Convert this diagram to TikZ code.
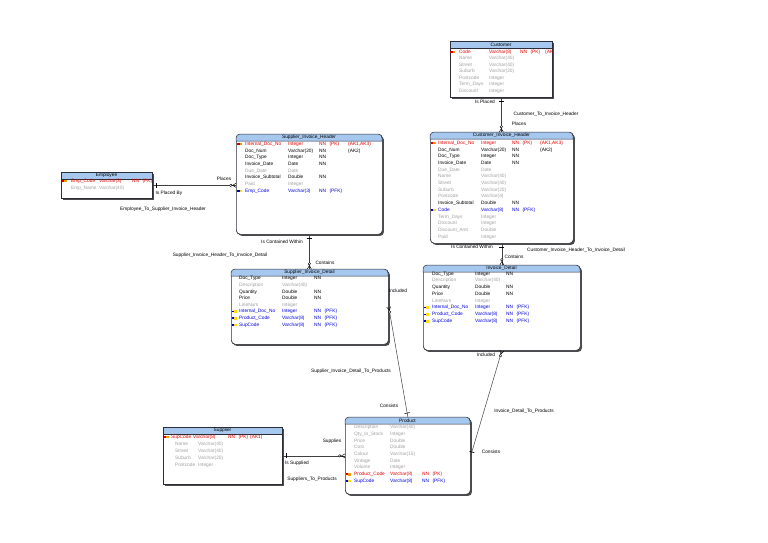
\documentclass[tikz,border=0pt]{standalone}
\usepackage{fontspec}
\setmainfont{Liberation Sans}
\usetikzlibrary{shadows,decorations.markings}
\definecolor{hdr}{RGB}{166,200,238}
\definecolor{pkc}{RGB}{228,0,0}
\definecolor{fkc}{RGB}{0,0,225}
\definecolor{optc}{RGB}{160,160,160}
\definecolor{bord}{RGB}{45,45,55}
\tikzset{
 tbl/.style={draw=bord, line width=0.7pt, fill=white, anchor=north west, inner sep=0pt,
   drop shadow={shadow xshift=1.6pt, shadow yshift=-1.6pt, fill=black!70, opacity=1}},
 hd/.style={fill=hdr, draw=bord, line width=0.5pt},
 ht/.style={font=\fontsize{4.8}{5}\selectfont, inner sep=0pt},
 ct/.style={font=\fontsize{4.8}{5}\selectfont, inner sep=0pt, anchor=west, text height=3.6pt, text depth=1pt},
 mand/.style={ct, text=black},
 opt/.style={ct, text=optc},
 pk/.style={ct, text=pkc},
 fk/.style={ct, text=fkc},
 lbl/.style={font=\fontsize{4.8}{5}\selectfont, inner sep=0pt},
 rel/.style={draw=black!75, line width=0.5pt, postaction={decorate, decoration={markings,
   mark=at position 4pt with {\draw[black, line width=0.6pt] (0pt,-2.6pt) -- (0pt,2.6pt);},
   mark=at position 0.9999 with {\draw[black, line width=0.45pt] (-3.5pt,0pt) -- (0pt,2pt) (-3.5pt,0pt) -- (0pt,-2pt);
      \draw[black, line width=0.4pt, fill=white] (-5.2pt,0pt) circle (1.3pt);}}}}
}
\newcounter{cn}
\newcommand\nnk[1]{NN\hspace{3.5pt}(#1)}
\newcommand\mktable[7]{%
 \node[tbl, rounded corners=#7, minimum width=#4pt-#2pt, minimum height=#5pt-#3pt] (#1) at (#2,#3) {};
 \filldraw[hd] (#2,#3+7) [rounded corners=#7] -- (#2,#3) -- (#4,#3) [sharp corners] -- (#4,#3+7) -- cycle;
 \node[ht] (#1-t) at ({(#2+#4)/2},#3+3.6) {#6};
}
\newcommand\rw[6]{\stepcounter{cn}%
 \node[#1] (n\arabic{cn}a) at (\ca,#2) {#3};
 \node[#1] (n\arabic{cn}b) at (\cb,#2) {#4};
 \if\relax\detokenize{#5}\relax\else\node[#1] (n\arabic{cn}c) at (\cc,#2) {#5};\fi
 \if\relax\detokenize{#6}\relax\else\node[#1] (n\arabic{cn}d) at (\cd,#2) {#6};\fi
}
\newcommand\pkey[2]{\fill[red!85!black] (#1,#2-0.8) rectangle (#1+3.2,#2+0.8);
 \fill[orange!80!yellow] (#1+2.6,#2-1.4) rectangle (#1+5.4,#2+1.4);}
\newcommand\fkey[2]{\fill[blue!80!black] (#1,#2-0.8) rectangle (#1+3.2,#2+0.8);
 \fill[yellow!80!orange] (#1+2.6,#2-1.4) rectangle (#1+5.4,#2+1.4);}
\begin{document}
\begin{tikzpicture}[x=1pt,y=-1pt]
\useasboundingbox (0,0) rectangle (768,542);

% ---------- Customer
\mktable{cust}{450}{41}{552}{97}{Customer}{0pt}
\def\ca{459}\def\cb{489}\def\cc{520}\def\cd{545}
\pkey{450}{52}
\rw{pk}{52}{Code}{Varchar(8)}{\nnk{PK}}{(AK}
\rw{opt}{58.5}{Name}{Varchar(40)}{}{}
\rw{opt}{65}{Street}{Varchar(40)}{}{}
\rw{opt}{71.5}{Suburb}{Varchar(20)}{}{}
\rw{opt}{78}{Postcode}{Integer}{}{}
\rw{opt}{84.5}{Term\_Days}{Integer}{}{}
\rw{opt}{91}{Discount}{Integer}{}{}

% ---------- Customer_Invoice_Header
\mktable{cih}{430}{132}{573}{243}{Customer\_Invoice\_Header}{4pt}
\def\ca{438}\def\cb{481}\def\cc{512}\def\cd{540}
\pkey{430.5}{143}
\rw{pk}{143}{Internal\_Doc\_No}{Integer}{\nnk{PK}}{(AK1,AK3)}
\rw{mand}{149.7}{Doc\_Num}{Varchar(20)}{NN}{(AK2)}
\rw{mand}{156.4}{Doc\_Type}{Integer}{NN}{}
\rw{mand}{163.1}{Invoice\_Date}{Date}{NN}{}
\rw{opt}{169.8}{Due\_Date}{Date}{}{}
\rw{opt}{176.5}{Name}{Varchar(40)}{}{}
\rw{opt}{183.2}{Street}{Varchar(40)}{}{}
\rw{opt}{189.9}{Suburb}{Varchar(20)}{}{}
\rw{opt}{196.6}{Postcode}{Varchar(4)}{}{}
\rw{mand}{203.3}{Invoice\_Subtotal}{Double}{NN}{}
\fkey{430.5}{210}
\rw{fk}{210}{Code}{Varchar(8)}{\nnk{PFK}}{}
\rw{opt}{216.7}{Term\_Days}{Integer}{}{}
\rw{opt}{223.4}{Discount}{Integer}{}{}
\rw{opt}{230.1}{Discount\_Amt}{Double}{}{}
\rw{opt}{236.8}{Paid}{Integer}{}{}

% ---------- Supplier_Invoice_Header
\mktable{sih}{236}{134}{382}{234}{Supplier\_Invoice\_Header}{4pt}
\def\ca{245}\def\cb{288}\def\cc{319}\def\cd{348}
\pkey{237}{144}
\rw{pk}{144}{Internal\_Doc\_No}{Integer}{\nnk{PK}}{(AK1,AK3)}
\rw{mand}{150.7}{Doc\_Num}{Varchar(20)}{NN}{(AK2)}
\rw{mand}{157.4}{Doc\_Type}{Integer}{NN}{}
\rw{mand}{164.1}{Invoice\_Date}{Date}{NN}{}
\rw{opt}{170.8}{Due\_Date}{Date}{}{}
\rw{mand}{177.5}{Invoice\_Subtotal}{Double}{NN}{}
\rw{opt}{184.2}{Paid}{Integer}{}{}
\fkey{237}{191}
\rw{fk}{191}{Emp\_Code}{Varchar(3)}{\nnk{PFK}}{}

% ---------- Employee
\mktable{emp}{61}{172}{152}{198}{Employee}{0pt}
\def\ca{71}\def\cb{99}\def\cc{132}\def\cd{0}
\pkey{61.5}{181}
\rw{pk}{181}{Emp\_Code}{Varchar(3)}{\nnk{PK}}{}
\rw{opt}{188.5}{Emp\_Name}{Varchar(40)}{}{}

% ---------- Supplier_Invoice_Detail
\mktable{sid}{231}{269}{388}{344}{Supplier\_Invoice\_Detail}{4pt}
\def\ca{239}\def\cb{282}\def\cc{314}\def\cd{0}
\rw{mand}{278.5}{Doc\_Type}{Integer}{NN}{}
\rw{opt}{285.1}{Description}{Varchar(40)}{}{}
\rw{mand}{291.7}{Quantity}{Double}{NN}{}
\rw{mand}{298.3}{Price}{Double}{NN}{}
\rw{opt}{304.9}{LineNum}{Integer}{}{}
\fkey{231.5}{311.5}\fkey{231.5}{318.2}\fkey{231.5}{324.9}
\rw{fk}{311.5}{Internal\_Doc\_No}{Integer}{\nnk{PFK}}{}
\rw{fk}{318.2}{Product\_Code}{Varchar(8)}{\nnk{PFK}}{}
\rw{fk}{324.9}{SupCode}{Varchar(8)}{\nnk{PFK}}{}

% ---------- Invoice_Detail
\mktable{idt}{423}{265}{580}{350}{Invoice\_Detail}{4pt}
\def\ca{432}\def\cb{475}\def\cc{506}\def\cd{0}
\rw{mand}{274}{Doc\_Type}{Integer}{NN}{}
\rw{opt}{280.6}{Description}{Varchar(40)}{}{}
\rw{mand}{287.3}{Quantity}{Double}{NN}{}
\rw{mand}{294}{Price}{Double}{NN}{}
\rw{opt}{300.7}{LineNum}{Integer}{}{}
\fkey{423.5}{307.5}\fkey{423.5}{314.3}\fkey{423.5}{321.1}
\rw{fk}{307.5}{Internal\_Doc\_No}{Integer}{\nnk{PFK}}{}
\rw{fk}{314.3}{Product\_Code}{Varchar(8)}{\nnk{PFK}}{}
\rw{fk}{321.1}{SupCode}{Varchar(8)}{\nnk{PFK}}{}

% ---------- Product
\mktable{prod}{345}{417}{470}{494}{Product}{4pt}
\def\ca{354}\def\cb{390}\def\cc{422}\def\cd{0}
\rw{opt}{427.3}{Description}{Varchar(40)}{}{}
\rw{opt}{434}{Qty\_In\_Stock}{Integer}{}{}
\rw{opt}{440.7}{Price}{Double}{}{}
\rw{opt}{447.4}{Cost}{Double}{}{}
\rw{opt}{454.1}{Colour}{Varchar(15)}{}{}
\rw{opt}{460.8}{Vintage}{Date}{}{}
\rw{opt}{467.5}{Volume}{Integer}{}{}
\pkey{345.5}{474.2}\fkey{345.5}{480.9}
\rw{pk}{474.2}{Product\_Code}{Varchar(8)}{\nnk{PK}}{}
\rw{fk}{480.9}{SupCode}{Varchar(8)}{\nnk{PFK}}{}

% ---------- Supplier
\mktable{sup}{163}{427}{282}{484}{Supplier}{0pt}
\def\ca{171}\def\cb{193}\def\cc{228}\def\cd{250}
\pkey{163.5}{437}
\rw{pk}{437}{SupCode}{Varchar(8)}{\nnk{PK}}{(AK1)}
\def\ca{175}\def\cb{198}
\rw{opt}{444}{Name}{Varchar(40)}{}{}
\rw{opt}{451}{Street}{Varchar(40)}{}{}
\rw{opt}{458}{Suburb}{Varchar(20)}{}{}
\rw{opt}{465}{Postcode}{Integer}{}{}

% ---------- Relationships
\draw[rel] (cust.south) -- (cust.south |- cih.north);
\node[lbl] (l1a) at (485,102) {Is Placed};
\node[lbl] (l1b) at (546,114) {Customer\_To\_Invoice\_Header};
\node[lbl] (l1c) at (519,124) {Places};

\draw[rel] (emp.east) -- (emp.east -| sih.west);
\node[lbl] (l2a) at (224,179) {Places};
\node[lbl] (l2b) at (169,193) {Is Placed By};
\node[lbl] (l2c) at (163,209) {Employee\_To\_Supplier\_Invoice\_Header};

\draw[rel] (sih.south) -- (sih.south |- sid.north);
\node[lbl] (l3a) at (282,242) {Is Contained Within};
\node[lbl] (l3b) at (220,255) {Supplier\_Invoice\_Header\_To\_Invoice\_Detail};
\node[lbl] (l3c) at (325,263) {Contains};

\draw[rel] (cih.south) -- (cih.south |- idt.north);
\node[lbl] (l4a) at (472,247) {Is Contained Within};
\node[lbl] (l4b) at (576,250) {Customer\_Invoice\_Header\_To\_Invoice\_Detail};
\node[lbl] (l4c) at (514,257) {Contains};

\draw[rel] (prod.north) -- (sid.east);
\node[lbl] (l5a) at (398,291) {Included};
\node[lbl] (l5b) at (351,371) {Supplier\_Invoice\_Detail\_To\_Products};
\node[lbl] (l5c) at (389,406) {Consists};

\draw[rel] (prod.east) -- (idt.south);
\node[lbl] (l6a) at (486,355) {Included};
\node[lbl] (l6b) at (524,411) {Invoice\_Detail\_To\_Products};
\node[lbl] (l6c) at (491,452) {Consists};

\draw[rel] (sup.east) -- (prod.west);
\node[lbl] (l7a) at (332,441) {Supplies};
\node[lbl] (l7b) at (297,463) {Is Supplied};
\node[lbl] (l7c) at (312,479) {Suppliers\_To\_Products};
\end{tikzpicture}
\end{document}
